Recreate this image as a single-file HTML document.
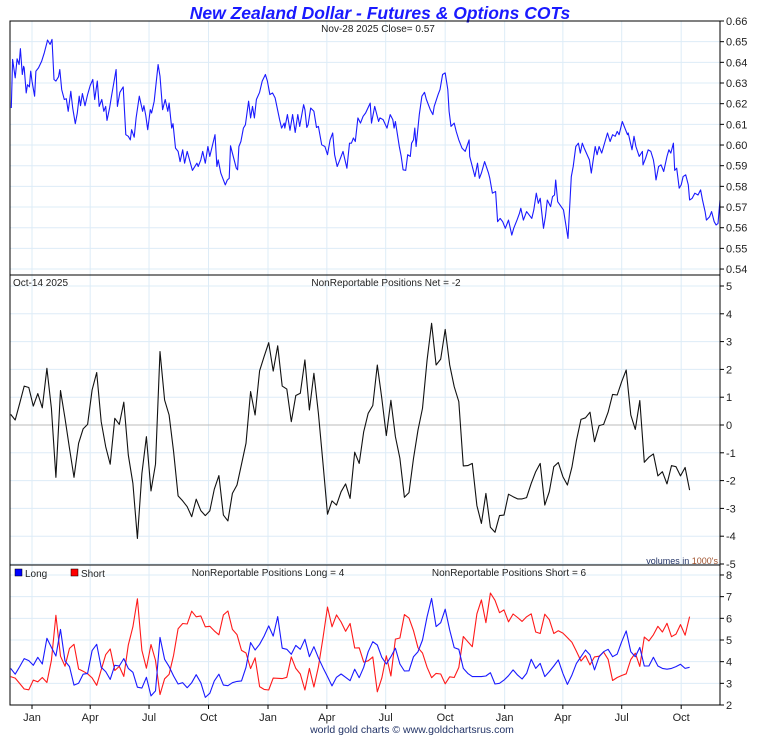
<!DOCTYPE html>
<html><head><meta charset="utf-8"><style>
html,body{margin:0;padding:0;background:#fff;}
svg{display:block;font-family:"Liberation Sans",Arial,sans-serif;}
</style></head><body>
<svg id="chart" width="760" height="735" viewBox="0 0 760 735" xmlns="http://www.w3.org/2000/svg" xml:space="preserve">
<text x="380" y="19" text-anchor="middle" font-size="17.5" font-weight="bold" font-style="italic" fill="#1a1aff">New Zealand Dollar - Futures &amp; Options COTs</text>
<text x="378" y="32" text-anchor="middle" font-size="10" fill="#222">Nov-28  2025   Close= 0.57</text>
<text x="13" y="286" font-size="10" fill="#222">Oct-14  2025</text>
<text x="386" y="286" text-anchor="middle" font-size="10" fill="#222">NonReportable Positions Net = -2</text>
<text x="718" y="564" text-anchor="end" font-size="9"><tspan fill="#223366">volumes in </tspan><tspan fill="#a0522d">1000's</tspan></text>
<rect x="15" y="569" width="7" height="7" fill="#0000ff" stroke="#000" stroke-width="0.5"/>
<text x="25" y="577" font-size="10" fill="#222">Long</text>
<rect x="71" y="569" width="7" height="7" fill="#ff0000" stroke="#000" stroke-width="0.5"/>
<text x="81" y="577" font-size="10" fill="#222">Short</text>
<text x="268" y="576" text-anchor="middle" font-size="10" fill="#222">NonReportable Positions Long = 4</text>
<text x="509" y="576" text-anchor="middle" font-size="10" fill="#222">NonReportable Positions Short = 6</text>
<text x="412" y="733" text-anchor="middle" font-size="10.5" fill="#223366">world gold charts © www.goldchartsrus.com</text>
</svg>
<script>
const priceDays=[-32,-30,-26,-23,-20,-18,-15,-13,-12,-9,-7,-4,-2,0,4,6,10,15,19,23,24,28,31,34,37,41,43,46,50,53,56,60,63,67,70,73,75,78,82,86,90,94,97,101,104,108,111,114,116,120,123,130,132,136,141,145,149,152,154,158,161,166,171,173,176,179,183,185,189,195,198,202,206,210,212,216,218,222,226,229,233,236,240,248,255,257,261,264,268,272,275,283,286,288,292,299,302,305,307,316,318,320,323,327,330,335,338,341,344,347,352,356,361,364,368,372,376,383,386,390,391,395,399,403,407,411,414,420,422,425,427,431,436,440,443,448,453,457,461,465,468,472,476,481,487,491,494,497,500,504,508,512,516,523,525,530,536,538,543,549,554,558,560,562,568,571,574,578,581,585,587,590,592,594,599,603,607,610,616,620,622,628,631,635,639,643,645,648,653,656,660,665,670,676,677,681,685,689,692,695,700,706,708,712,717,720,724,728,732,737,742,745,750,754,756,760,765,773,776,780,783,786,791,794,797,802,805,808,810,813,822,829,834,837,841,845,848,851,854,862,865,868,871,874,877,881,887,890,894,898,902,905,908,913,921,922,928,931,934,939,944,945,949,953,957,961,963,965,969,973,977,982,985,988,992,994,997,1001,1004,1007,1011,1015,1017,1021,1025,1030,1034,1037,1041,1043,1048,1051,1055,1058,1061,1064];
const priceVals=[0.6179,0.6414,0.6325,0.6417,0.6389,0.6466,0.6341,0.6381,0.6373,0.6252,0.6292,0.6281,0.6357,0.6309,0.6236,0.6357,0.6373,0.6406,0.6446,0.6495,0.6508,0.6487,0.6511,0.6317,0.6309,0.6330,0.6365,0.6268,0.6220,0.6224,0.6163,0.6260,0.6179,0.6103,0.6155,0.6236,0.6190,0.6249,0.6190,0.6244,0.6288,0.6317,0.6220,0.6309,0.6187,0.6220,0.6163,0.6187,0.6119,0.6179,0.6236,0.6365,0.6187,0.6255,0.6281,0.6050,0.6042,0.6025,0.6074,0.6038,0.6131,0.6236,0.6163,0.6190,0.6142,0.6074,0.6171,0.6155,0.6212,0.6389,0.6333,0.6171,0.6220,0.6163,0.6203,0.6082,0.6103,0.5985,0.5969,0.5920,0.5977,0.5912,0.5969,0.5877,0.5912,0.5896,0.5928,0.5969,0.5912,0.5993,0.5945,0.6050,0.5896,0.5928,0.5864,0.5807,0.5831,0.5839,0.5996,0.5888,0.5880,0.5993,0.6017,0.6082,0.6098,0.6212,0.6131,0.6187,0.6131,0.6220,0.6255,0.6309,0.6341,0.6309,0.6244,0.6252,0.6228,0.6123,0.6082,0.6106,0.6082,0.6147,0.6071,0.6147,0.6061,0.6147,0.6090,0.6195,0.6171,0.6085,0.6098,0.6179,0.6163,0.6085,0.6090,0.6001,0.5993,0.5953,0.6025,0.6058,0.5953,0.5896,0.5928,0.5969,0.5888,0.6009,0.6009,0.6034,0.6017,0.6131,0.6106,0.6139,0.6155,0.6203,0.6106,0.6187,0.6114,0.6131,0.6123,0.6082,0.6147,0.6123,0.6082,0.6114,0.5993,0.5945,0.5880,0.5877,0.5953,0.5945,0.6009,0.6025,0.6082,0.5993,0.6147,0.6236,0.6255,0.6220,0.6171,0.6147,0.6187,0.6244,0.6268,0.6341,0.6349,0.6268,0.6163,0.6090,0.6106,0.6066,0.6025,0.5985,0.5969,0.6025,0.5945,0.5896,0.5847,0.5912,0.5839,0.5864,0.5920,0.5864,0.5839,0.5767,0.5775,0.5629,0.5645,0.5629,0.5597,0.5637,0.5564,0.5597,0.5637,0.5670,0.5694,0.5637,0.5678,0.5645,0.5686,0.5767,0.5718,0.5742,0.5597,0.5653,0.5734,0.5702,0.5750,0.5758,0.5831,0.5726,0.5686,0.5548,0.5847,0.5896,0.5993,0.6009,0.5961,0.6009,0.5985,0.5928,0.5864,0.5928,0.5993,0.5953,0.5993,0.5961,0.6025,0.6058,0.6017,0.6050,0.6042,0.6066,0.6050,0.6114,0.6050,0.6058,0.5977,0.6042,0.5993,0.5945,0.5969,0.5904,0.5936,0.5977,0.5969,0.5928,0.5888,0.5831,0.5896,0.5904,0.5872,0.5945,0.5977,0.5961,0.6009,0.5877,0.5888,0.5791,0.5807,0.5847,0.5856,0.5807,0.5734,0.5742,0.5767,0.5758,0.5783,0.5734,0.5678,0.5637,0.5653,0.5678,0.5629,0.5613,0.5621,0.5734];
const netVals=[0.38,0.18,0.78,1.40,1.35,0.68,1.13,0.62,2.04,0.60,-1.88,1.24,0.24,-0.84,-1.88,-0.66,-0.14,0.02,1.26,1.89,0.12,-0.78,-1.41,0.24,0.02,0.82,-1.08,-2.10,-4.08,-1.74,-0.42,-2.37,-1.41,2.64,0.90,0.36,-0.96,-2.55,-2.73,-2.94,-3.30,-2.67,-3.08,-3.26,-3.09,-2.31,-1.82,-3.24,-3.45,-2.46,-2.16,-1.41,-0.66,1.20,0.36,1.95,2.46,2.96,1.94,2.85,1.40,1.29,0.12,1.06,1.14,2.34,0.54,1.86,0.42,-1.38,-3.21,-2.73,-2.88,-2.40,-2.12,-2.64,-0.98,-1.38,-0.24,0.42,0.70,2.16,0.96,-0.38,0.89,-0.42,-1.20,-2.60,-2.43,-1.20,-0.18,0.60,2.34,3.66,2.16,2.37,3.44,2.16,1.38,0.84,-1.47,-1.46,-1.38,-2.90,-3.54,-2.46,-3.68,-3.86,-3.26,-3.24,-2.49,-2.58,-2.66,-2.66,-2.61,-2.10,-1.68,-1.38,-2.88,-2.40,-1.50,-1.35,-1.86,-2.16,-1.52,-0.56,0.20,0.26,0.46,-0.60,-0.02,0.02,0.46,1.10,1.08,1.56,1.98,0.36,-0.16,0.88,-1.34,-1.16,-1.04,-1.83,-1.68,-2.12,-1.46,-1.50,-1.83,-1.53,-2.34];
const longVals=[3.69,3.42,3.77,4.14,4.05,3.83,4.20,3.89,5.08,4.66,4.26,5.49,4.03,3.77,2.92,3.00,3.42,3.46,4.51,4.80,3.74,3.54,3.18,3.83,3.80,4.14,3.69,3.51,2.82,2.78,3.28,2.42,2.65,5.12,4.11,3.77,3.34,2.97,3.03,2.80,3.03,3.40,3.03,2.35,2.54,3.11,3.42,2.92,2.89,3.03,3.09,3.11,3.74,4.88,4.54,4.80,5.18,5.65,5.18,6.08,4.62,4.57,4.34,4.75,4.57,5.03,4.23,4.69,4.18,3.72,3.31,2.88,3.28,3.43,3.28,3.12,3.65,3.26,3.74,4.46,4.92,4.77,4.20,3.89,4.23,4.62,3.89,3.57,3.58,4.23,4.46,5.00,6.08,6.92,5.62,5.80,6.42,5.46,4.65,4.57,3.69,3.46,3.31,3.31,3.31,3.34,3.49,2.97,3.00,3.15,3.35,3.62,3.38,3.20,3.46,4.11,3.69,3.92,3.31,3.54,3.80,4.08,3.46,2.95,3.38,3.92,4.23,4.54,4.31,3.62,4.23,4.46,4.57,4.23,4.35,4.92,5.42,4.46,4.23,4.66,3.80,3.80,4.20,3.80,3.69,3.65,3.69,3.77,3.88,3.69,3.74];
const shortVals=[3.31,3.24,2.99,2.74,2.70,3.15,3.07,3.27,3.04,4.06,6.14,4.25,3.79,4.61,4.80,3.66,3.56,3.44,3.25,2.91,3.62,4.32,4.59,3.59,3.78,3.32,4.77,5.61,6.90,4.52,3.70,4.79,4.06,2.48,3.21,3.41,4.30,5.52,5.76,5.74,6.33,6.07,6.11,5.61,5.63,5.42,5.24,6.16,6.34,5.49,5.25,4.52,4.40,3.68,4.18,2.85,2.72,2.69,3.24,3.23,3.22,3.28,4.22,3.69,3.43,2.69,3.69,2.83,3.76,5.10,6.52,5.61,6.16,5.83,5.40,5.76,4.63,4.64,3.98,4.04,4.22,2.61,3.24,4.27,3.34,5.04,5.09,6.17,6.01,5.43,4.64,4.40,3.74,3.26,3.46,3.43,2.98,3.30,3.27,3.73,5.16,4.92,4.69,6.21,6.85,5.80,7.17,6.83,6.26,6.39,5.84,6.20,6.04,5.86,6.07,6.21,5.37,5.30,6.19,5.94,5.30,5.43,5.32,5.11,4.90,4.48,4.03,4.28,3.85,4.22,4.25,4.44,4.11,3.13,3.27,3.36,3.44,4.10,4.39,3.78,5.14,4.96,5.24,5.63,5.37,5.77,5.15,5.27,5.71,5.22,6.08];
const cotLastDay=1017;
const monthLabels=["Jan","Apr","Jul","Oct","Jan","Apr","Jul","Oct","Jan","Apr","Jul","Oct"];
const monthDays=[0,90,181,273,365,456,547,639,731,821,912,1004];
const priceTicks=[0.66,0.65,0.64,0.63,0.62,0.61,0.60,0.59,0.58,0.57,0.56,0.55,0.54];
const netTicks=[5,4,3,2,1,0,-1,-2,-3,-4,-5];
const volTicks=[8,7,6,5,4,3,2];

const NS="http://www.w3.org/2000/svg";
const svg=document.getElementById('chart');
const L=10,R=720;
const xDay=d=>32+d*0.6466;
const yPrice=v=>21+(0.66-v)*2067;
const yNet=v=>425-v*27.8;
const yVol=v=>705-(v-2)*21.67;
const cotDay=i=>cotLastDay-7*(netVals.length-1-i);
function mk(tag,attrs,parent){const e=document.createElementNS(NS,tag);for(const k in attrs)e.setAttribute(k,attrs[k]);(parent||svg).appendChild(e);return e;}
const bg=mk('g',{});


svg.insertBefore(bg,svg.firstChild);
const panels=[{top:21,bot:275,ticks:priceTicks,y:yPrice,fmt:v=>v.toFixed(2),name:'price'},
{top:275,bot:565,ticks:netTicks,y:yNet,fmt:v=>String(v),name:'net'},
{top:565,bot:705,ticks:volTicks,y:yVol,fmt:v=>String(v),name:'volume'}];
panels.forEach(p=>{
  monthDays.forEach(d=>{const x=xDay(d);const g=mk('line',{x1:x,x2:x,y1:p.top,y2:p.bot,stroke:'#ddecf7','stroke-width':1},bg);
  
  });
  p.ticks.forEach(v=>{const y=p.y(v);
    const g=mk('line',{x1:L,x2:R,y1:y,y2:y,stroke:'#ddecf7','stroke-width':1},bg);
    
    
    const t=mk('line',{x1:R,x2:R+4,y1:y,y2:y,stroke:'#000'});
    
    
    const lb=mk('text',{x:R+6,y:y+4,'font-size':11,fill:'#222'});
    lb.textContent=p.fmt(v);
    
    
  });
});
const zl=mk('line',{x1:L,x2:R,y1:yNet(0),y2:yNet(0),stroke:'#bbbbbb','stroke-width':1});


function poly(pts,color,name){const p=mk('polyline',{points:pts.map(q=>q[0].toFixed(1)+','+q[1].toFixed(1)).join(' '),fill:'none',stroke:color,'stroke-width':1.1,'stroke-linejoin':'round'});

}
poly(priceVals.map((v,i)=>[xDay(priceDays[i]),yPrice(v)]),'#1a1aff','price-line');
poly(netVals.map((v,i)=>[xDay(cotDay(i)),yNet(v)]),'#111','net-line');
poly(shortVals.map((v,i)=>[xDay(cotDay(i)),yVol(v)]),'#ff1a1a','short-line');
poly(longVals.map((v,i)=>[xDay(cotDay(i)),yVol(v)]),'#1a1aff','long-line');
panels.forEach(p=>{const r=mk('rect',{x:L,y:p.top,width:R-L,height:p.bot-p.top,fill:'none',stroke:'#000','stroke-width':1});

});
monthDays.forEach((d,i)=>{const x=xDay(d);
  const t=mk('line',{x1:x,x2:x,y1:705,y2:709,stroke:'#000'});
  
  
  const lb=mk('text',{x:x,y:721,'text-anchor':'middle','font-size':11,fill:'#222'});
  lb.textContent=monthLabels[i];
  
  
});
</script>
</body></html>
